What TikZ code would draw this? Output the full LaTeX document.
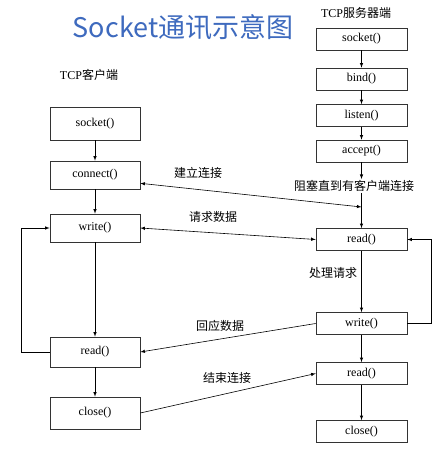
\documentclass[tikz,border=0pt]{standalone}
\usepackage{fontspec}
\setmainfont{Liberation Serif}
\newfontfamily\cjk{Noto Sans CJK SC}
\definecolor{titleblue}{RGB}{62,106,190}

\begin{document}
\begin{tikzpicture}[x=1pt,y=-1pt,>=latex,line width=0.6pt,
  cbox/.style={draw=black!80,minimum width=90pt,minimum height=29pt,inner sep=0pt,font=\fontsize{12}{14}\selectfont},
  sbox/.style={draw=black!80,minimum width=91pt,minimum height=22pt,inner sep=0pt,font=\fontsize{12}{14}\selectfont},
  lbl/.style={font=\cjk\fontsize{12}{14}\selectfont,inner sep=1pt}]
\useasboundingbox (0,0) rectangle (441,452);

% Title
\node[font=\cjk\fontsize{27}{30}\selectfont,text=titleblue] (title) at (183,27) {Socket通讯示意图};

% Client side
\node[font=\fontsize{12}{14}\selectfont] (client) at (89,75) {TCP{\cjk 客户端}};
\node[cbox,minimum height=33pt] (csocket) at (95,123.5) {socket()};
\node[cbox,minimum height=28pt] (cconnect) at (95,175) {connect()};
\node[cbox,minimum height=28pt] (cwrite) at (95,228) {write()};
\node[cbox,minimum height=30pt] (cread) at (95,352) {read()};
\node[cbox,minimum height=32pt] (cclose) at (95,413) {close()};
\draw[->] (csocket) -- (cconnect);
\draw[->] (cconnect) -- (cwrite);
\draw[->] (cwrite) -- (cread);
\draw[->] (cread) -- (cclose);
\draw[->] (cread.west) -- ++(-28,0) |- (cwrite.west); % loop back

% Server side
\node[font=\fontsize{12}{14}\selectfont] (server) at (356,13) {TCP{\cjk 服务器端}};
\node[sbox] (ssocket) at (361.5,39) {socket()};
\node[sbox] (sbind) at (361.5,79) {bind()};
\node[sbox] (slisten) at (361.5,115.5) {listen()};
\node[sbox] (saccept) at (361.5,151) {accept()};
\node[lbl,fill=white] (block) at (354,186) {阻塞直到有客户端连接};
\node[sbox] (sread) at (361.5,239.5) {read()};
\node[lbl] (proc) at (333,273) {处理请求};
\node[sbox] (swrite) at (361.5,323.5) {write()};
\node[sbox] (sread2) at (361.5,373.5) {read()};
\node[sbox] (sclose) at (361.5,431.5) {close()};
\draw[->] (ssocket) -- (sbind);
\draw[->] (sbind) -- (slisten);
\draw[->] (slisten) -- (saccept);
\draw[->] (saccept.south) -- (saccept.south |- block.north);
\draw[->] (saccept.south |- block.south) -- (sread.north);
\coordinate (blk) at (361.5,207);
\draw[->] (sread) -- (swrite);
\draw[->] (swrite) -- (sread2);
\draw[->] (sread2) -- (sclose);
\draw[->] (swrite.east) -- ++(24,0) |- (sread.east); % loop back

% Between the two
\draw[<->] ([yshift=6pt]cconnect.south east) -- (blk);
\node[lbl] (conn) at (198,173) {建立连接};
\draw[<->] (cwrite.east) -- (sread.west);
\node[lbl] (req) at (213,217) {请求数据};
\draw[->] (swrite.west) -- (cread.east);
\node[lbl] (resp) at (220,326) {回应数据};
\draw[->] (cclose.east) -- (sread2.west);
\node[lbl] (fin) at (227,378) {结束连接};

\end{tikzpicture}
\end{document}
